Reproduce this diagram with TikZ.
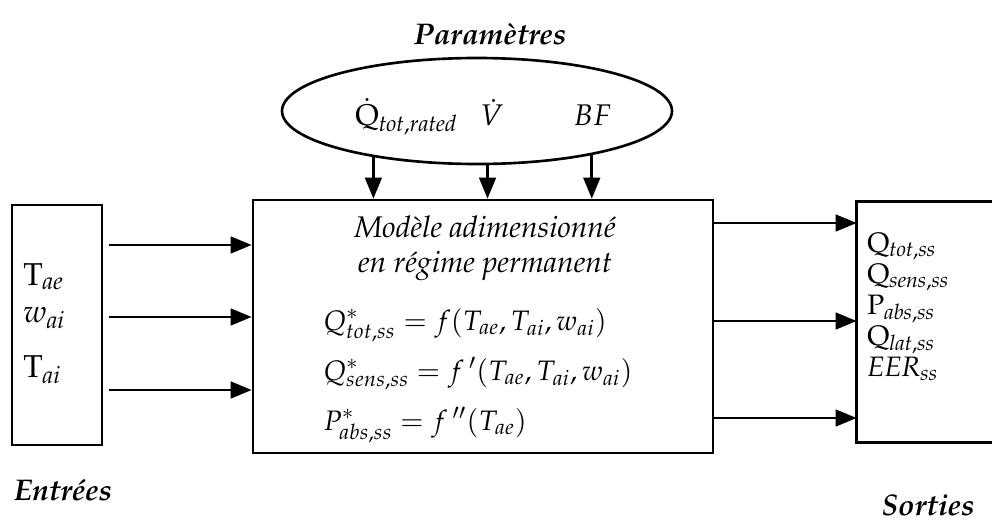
\documentclass[tikz,border=0pt]{standalone}
\usepackage[T1]{fontenc}
\usepackage{mathpazo}
\usetikzlibrary{arrows.meta,shapes.geometric}

\begin{document}
\begin{tikzpicture}[>={Triangle[length=12pt,width=9.5pt]},
    boite/.style={draw, line width=1.5pt, inner sep=0pt},
    fleche/.style={->, line width=1.5pt},
    titre/.style={font=\fontsize{17}{20}\selectfont\bfseries\itshape},
    var/.style={anchor=base west, inner sep=0pt}]
    \useasboundingbox (0,0) rectangle (19.84,10.44);
    \node[boite, minimum width=1.8cm, minimum height=4.8cm] (ent) at (1.14,3.94) {};
    \node[boite, minimum width=9.2cm, minimum height=5.06cm] (mod) at (9.66,3.91) {};
    \node[inner sep=0pt, minimum width=2.7cm, minimum height=4.8cm] (sor) at (18.49,4.0) {};
    \draw[line width=1.5pt] (sor.north east) -- (sor.north west) -- (sor.south west) -- (sor.south east);
    \node[boite, ellipse, minimum width=7.8cm, minimum height=2.12cm] (par) at (9.54,8.22) {};
    % titres
    \node[titre] (tpar) at (9.80,9.76) {Param\`etres};
    \node[titre] (tent) at (1.26,0.64) {Entr\'ees};
    \node[titre] (tsor) at (18.56,0.34) {Sorties};
    % parametres
    \node[var, font=\fontsize{17}{20}\selectfont] (qr) at (7.10,7.94) {$\dot{\mathrm{Q}}_{\mathit{tot,rated}}$};
    \node[var, font=\fontsize{17}{20}\selectfont] (vd) at (9.60,7.94) {$\dot{V}$};
    \node[var, font=\fontsize{17}{20}\selectfont] (bf) at (11.46,7.94) {$BF$};
    % entrees
    \node[var, font=\fontsize{18}{21}\selectfont] (tae) at (0.46,4.74) {$\mathrm{T}_{\mathit{ae}}$};
    \node[var, font=\fontsize{18}{21}\selectfont] (wai) at (0.46,4.00) {$w_{\mathit{ai}}$};
    \node[var, font=\fontsize{18}{21}\selectfont] (tai) at (0.46,2.90) {$\mathrm{T}_{\mathit{ai}}$};
    % modele
    \node[anchor=base, inner sep=0pt, font=\fontsize{17}{20}\selectfont\itshape] (l1) at (9.70,5.70) {Mod\`ele adimensionn\'e};
    \node[anchor=base, inner sep=0pt, font=\fontsize{17}{20}\selectfont\itshape] (l2) at (9.70,5.00) {en r\'egime permanent};
    \node[var, font=\fontsize{16}{19}\selectfont] (eq1) at (6.46,3.84) {$Q^*_{tot,ss} = f(T_{ae}, T_{ai}, w_{ai})$};
    \node[var, font=\fontsize{16}{19}\selectfont] (eq2) at (6.46,2.84) {$Q^*_{sens,ss} = f\,'(T_{ae}, T_{ai}, w_{ai})$};
    \node[var, font=\fontsize{16}{19}\selectfont] (eq3) at (6.46,1.84) {$P^*_{abs,ss} = f\,''(T_{ae})$};
    % sorties
    \node[var, font=\fontsize{16}{19}\selectfont] (qt) at (17.34,5.40) {$\mathrm{Q}_{\mathit{tot,ss}}$};
    \node[var, font=\fontsize{16}{19}\selectfont] (qs) at (17.34,4.78) {$\mathrm{Q}_{\mathit{sens,ss}}$};
    \node[var, font=\fontsize{16}{19}\selectfont] (pa) at (17.34,4.16) {$\mathrm{P}_{\mathit{abs,ss}}$};
    \node[var, font=\fontsize{16}{19}\selectfont] (ql) at (17.34,3.54) {$\mathrm{Q}_{\mathit{lat,ss}}$};
    \node[var, font=\fontsize{16}{19}\selectfont] (eer) at (17.34,2.92) {$\mathit{EER}_{\mathit{ss}}$};
    % fleches
    \draw[fleche, shorten <=0.12cm] (ent.east |- 0,5.54) -- (mod.west |- 0,5.54);
    \draw[fleche, shorten <=0.12cm] (ent.east |- 0,4.10) -- (mod.west |- 0,4.10);
    \draw[fleche, shorten <=0.12cm] (ent.east |- 0,2.64) -- (mod.west |- 0,2.64);
    \draw[fleche] (mod.east |- 0,5.98) -- (sor.west |- 0,5.98);
    \draw[fleche] (mod.east |- 0,4.02) -- (sor.west |- 0,4.02);
    \draw[fleche] (mod.east |- 0,2.08) -- (sor.west |- 0,2.08);
    \draw[fleche] (par.204) -- (par.204 |- mod.north);
    \draw[fleche] (par.281) -- (par.281 |- mod.north);
    \draw[fleche] (par.339) -- (par.339 |- mod.north);
\end{tikzpicture}
\end{document}
